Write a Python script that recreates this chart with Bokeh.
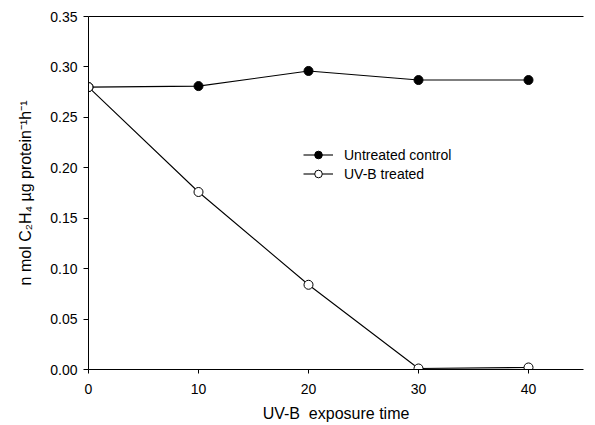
from bokeh.plotting import figure
from bokeh.models import Range1d, FixedTicker, LinearAxis, Legend, LegendItem, PrintfTickFormatter
from bokeh.embed import file_html
from bokeh.resources import INLINE

# ---- data ----
exposure_time = [0, 10, 20, 30, 40]
untreated_control = [0.280, 0.281, 0.296, 0.287, 0.287]
uvb_treated = [0.280, 0.176, 0.084, 0.001, 0.002]
x_ticks = [0, 10, 20, 30, 40]
y_ticks = [0.00, 0.05, 0.10, 0.15, 0.20, 0.25, 0.30, 0.35]
x_label = "UV-B\u00a0 exposure time"
y_label = "n mol C\u2082H\u2084 \u00b5g protein\u207b\u00b9h\u207b\u00b9"
series_labels = ["Untreated control", "UV-B treated"]

FONT = "Liberation Sans"

p = figure(width=595, height=425,
           x_range=Range1d(0, 45), y_range=Range1d(0, 0.35),
           output_backend="svg", toolbar_location=None,
           min_border_left=88, min_border_right=12,
           min_border_top=16, min_border_bottom=56)
p.grid.visible = False
p.outline_line_color = None
p.background_fill_color = "white"
p.border_fill_color = "white"

# axes styling
for ax in (p.xaxis[0], p.yaxis[0]):
    ax.axis_line_color = "black"
    ax.axis_line_width = 1
    ax.major_tick_line_color = "black"
    ax.major_tick_in = 0
    ax.minor_tick_line_color = None
    ax.major_label_text_font = FONT
    ax.major_label_text_font_size = "14px"
    ax.major_label_text_color = "black"
    ax.axis_label_text_font = FONT
    ax.axis_label_text_font_style = "normal"
    ax.axis_label_text_color = "black"

p.xaxis.ticker = FixedTicker(ticks=x_ticks)
p.xaxis.major_tick_out = 4
p.xaxis.major_label_standoff = 10
p.xaxis.axis_label = x_label
p.xaxis.axis_label_text_font_size = "16px"
p.xaxis.axis_label_standoff = 8

p.yaxis.ticker = FixedTicker(ticks=y_ticks)
p.yaxis.formatter = PrintfTickFormatter(format="%.2f")
p.yaxis.major_tick_out = 5
p.yaxis.major_label_standoff = 6
p.yaxis.axis_label = y_label
p.yaxis.axis_label_text_font_size = "16px"
p.yaxis.axis_label_standoff = 13

top_axis = LinearAxis(ticker=FixedTicker(ticks=[]),
                      major_label_text_font_size="0px",
                      axis_line_color="black",
                      major_tick_line_color=None,
                      minor_tick_line_color=None)
p.add_layout(top_axis, "above")

# series
l1 = p.line(exposure_time, untreated_control, line_color="black", line_width=1.1)
s1 = p.scatter(exposure_time, untreated_control, marker="circle", size=9,
               fill_color="black", line_color="black", line_width=1)
l2 = p.line(exposure_time, uvb_treated, line_color="black", line_width=1.1)
s2 = p.scatter(exposure_time, uvb_treated, marker="circle", size=9,
               fill_color="white", line_color="black", line_width=1)

legend = Legend(items=[LegendItem(label=series_labels[0], renderers=[l1, s1]),
                       LegendItem(label=series_labels[1], renderers=[l2, s2])],
                location=(215, 186),
                border_line_color=None, background_fill_alpha=0,
                padding=0, margin=0, spacing=0,
                glyph_height=19, glyph_width=30,
                label_height=19, label_standoff=11,
                label_text_font=FONT, label_text_font_size="14px",
                label_text_color="black")
p.add_layout(legend)

open("out.html", "w").write(file_html(p, INLINE))
